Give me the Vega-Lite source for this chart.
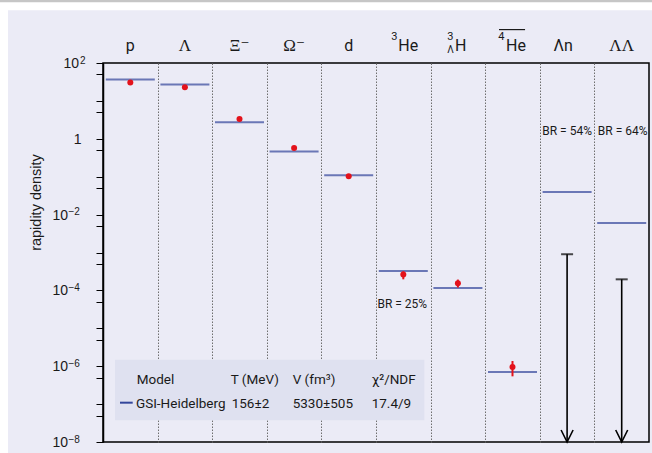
{
  "$schema": "https://vega.github.io/schema/vega-lite/v6.json",
  "width": 546,
  "height": 379,
  "autosize": {"type": "none"},
  "padding": {"left": 103, "top": 63, "right": 3, "bottom": 11},
  "background": "#ebebf6",
  "config": {
    "view": {"stroke": "#000000", "strokeWidth": 1.5},
    "text": {"font": "Roboto, Liberation Sans, sans-serif", "color": "#1a1a1a"}
  },
  "datasets": {
    "yields": [
      {"particle": "p", "col": 0, "model": 36.5, "measured": 30.4},
      {"particle": "Λ", "col": 1, "model": 26.9, "measured": 22.9},
      {"particle": "Ξ⁻", "col": 2, "model": 2.72, "measured": 3.33},
      {"particle": "Ω⁻", "col": 3, "model": 0.459, "measured": 0.572},
      {"particle": "d", "col": 4, "model": 0.109, "measured": 0.102},
      {"particle": "3He", "col": 5, "model": 0.000325, "measured": 0.000261, "lo": 0.000196, "hi": 0.000319},
      {"particle": "3LH", "col": 6, "model": 0.000116, "measured": 0.000154, "lo": 0.000119, "hi": 0.000193},
      {"particle": "anti4He", "col": 7, "model": 7.03e-7, "measured": 9.5e-7, "lo": 5.4e-7, "hi": 1.37e-6},
      {"particle": "Λn", "col": 8, "model": 0.0394, "limit": 0.0009},
      {"particle": "ΛΛ", "col": 9, "model": 0.006, "limit": 0.000196}
    ],
    "decades": [
      {"v": 100, "exp": "2"},
      {"v": 0.01, "exp": "−2"},
      {"v": 0.0001, "exp": "−4"},
      {"v": 0.000001, "exp": "−6"},
      {"v": 1e-8, "exp": "−8"}
    ],
    "fit": [
      {"model": "GSI-Heidelberg", "T": "156±2", "V": "5330±505", "chi2": "17.4/9"}
    ],
    "one": [{}]
  },
  "layer": [
    {
      "data": {"name": "yields"},
      "mark": {"type": "tick", "orient": "horizontal", "size": 49, "thickness": 2, "color": "#33469b"},
      "encoding": {
        "x": {
          "field": "col", "type": "quantitative",
          "scale": {"domain": [-0.5, 9.5], "nice": false, "zero": false},
          "axis": {
            "orient": "bottom", "values": [0.5, 1.5, 2.5, 3.5, 4.5, 5.5, 6.5, 7.5, 8.5],
            "grid": true, "gridColor": "#6e6e6e", "gridDash": [1.5, 1.5], "gridWidth": 1,
            "labels": false, "ticks": false, "domain": false, "title": null
          }
        },
        "y": {
          "field": "model", "type": "quantitative",
          "scale": {"type": "log", "domain": [1e-8, 100], "nice": false},
          "axis": {
            "orient": "left", "grid": false, "labels": false,
            "values": [100, 50, 10, 5, 1, 0.5, 0.1, 0.05, 0.01, 0.005, 0.001, 0.0005, 0.0001, 0.00005, 0.00001, 0.000005, 0.000001, 5e-7, 1e-7, 5e-8, 1e-8],
            "tickSize": 7, "tickColor": "#000000", "tickWidth": 1,
            "domainColor": "#000000", "domainWidth": 1.5,
            "title": "rapidity density",
            "titleFont": "Liberation Sans, Arial, sans-serif", "titleFontSize": 14.5, "titleFontWeight": "normal",
            "titleColor": "#1a1a1a", "titleX": -67, "titleY": 139, "titleAngle": -90,
            "titleAlign": "center", "titleBaseline": "middle"
          }
        }
      }
    },
    {
      "data": {"name": "one"},
      "mark": {"type": "rect", "color": "#ffffff"},
      "encoding": {
        "x": {"datum": -3, "type": "quantitative"}, "x2": {"datum": 11},
        "y": {"datum": 2455, "type": "quantitative"}, "y2": {"datum": 1000000}
      }
    },
    {
      "data": {"name": "one"},
      "mark": {"type": "rect", "color": "#ffffff"},
      "encoding": {
        "x": {"datum": -3, "type": "quantitative"}, "x2": {"datum": -2.24},
        "y": {"datum": 1e-10, "type": "quantitative"}, "y2": {"datum": 1000000}
      }
    },
    {
      "data": {"name": "one"},
      "mark": {"type": "rect", "color": "#c6c6c6"},
      "encoding": {
        "x": {"datum": -3, "type": "quantitative"}, "x2": {"datum": 11},
        "y": {"datum": 4000, "type": "quantitative"}, "y2": {"datum": 1000000}
      }
    },
    {
      "data": {"name": "decades"},
      "transform": [{"filter": "datum.v < 1"}],
      "mark": {"type": "text", "align": "right", "baseline": "alphabetic", "fontSize": 14, "font": "Liberation Sans, Arial, sans-serif", "dx": -35, "dy": 5},
      "encoding": {
        "x": {"datum": -0.5, "type": "quantitative"},
        "y": {"field": "v", "type": "quantitative"},
        "text": {"value": "10"}
      }
    },
    {
      "data": {"name": "decades"},
      "transform": [{"filter": "datum.v < 1"}],
      "mark": {"type": "text", "align": "left", "baseline": "alphabetic", "fontSize": 10, "font": "Liberation Sans, Arial, sans-serif", "dx": -34.5, "dy": 0.5},
      "encoding": {
        "x": {"datum": -0.5, "type": "quantitative"},
        "y": {"field": "v", "type": "quantitative"},
        "text": {"field": "exp"}
      }
    },
    {
      "data": {"name": "decades"},
      "transform": [{"filter": "datum.v > 1"}],
      "mark": {"type": "text", "align": "right", "baseline": "alphabetic", "fontSize": 14, "font": "Liberation Sans, Arial, sans-serif", "dx": -24, "dy": 5},
      "encoding": {
        "x": {"datum": -0.5, "type": "quantitative"},
        "y": {"field": "v", "type": "quantitative"},
        "text": {"value": "10"}
      }
    },
    {
      "data": {"name": "decades"},
      "transform": [{"filter": "datum.v > 1"}],
      "mark": {"type": "text", "align": "left", "baseline": "alphabetic", "fontSize": 10, "font": "Liberation Sans, Arial, sans-serif", "dx": -23, "dy": 0.5},
      "encoding": {
        "x": {"datum": -0.5, "type": "quantitative"},
        "y": {"field": "v", "type": "quantitative"},
        "text": {"field": "exp"}
      }
    },
    {
      "data": {"name": "one"},
      "mark": {"type": "text", "align": "right", "baseline": "alphabetic", "fontSize": 14, "font": "Liberation Sans, Arial, sans-serif", "dx": -21.5, "dy": 5},
      "encoding": {
        "x": {"datum": -0.5, "type": "quantitative"},
        "y": {"datum": 1, "type": "quantitative"},
        "text": {"value": "1"}
      }
    },
    {
      "data": {"name": "one"},
      "mark": {"type": "rect", "color": "#dfe1f0"},
      "encoding": {
        "x": {"datum": -0.28, "type": "quantitative"}, "x2": {"datum": 5.385},
        "y": {"datum": 1.49e-6, "type": "quantitative"}, "y2": {"datum": 3.74e-8}
      }
    },
    {
      "data": {"name": "yields"},
      "transform": [{"filter": "isValid(datum.lo)"}],
      "mark": {"type": "rule", "color": "#e3121b", "strokeWidth": 2},
      "encoding": {
        "x": {"field": "col", "type": "quantitative"},
        "y": {"field": "lo", "type": "quantitative"},
        "y2": {"field": "hi"}
      }
    },
    {
      "data": {"name": "yields"},
      "transform": [{"filter": "isValid(datum.measured)"}],
      "mark": {"type": "point", "filled": true, "opacity": 1, "size": 36, "color": "#e3121b"},
      "encoding": {
        "x": {"field": "col", "type": "quantitative"},
        "y": {"field": "measured", "type": "quantitative"}
      }
    },
    {
      "data": {"name": "yields"},
      "transform": [{"filter": "isValid(datum.limit)"}],
      "mark": {"type": "rule", "color": "#000000", "strokeWidth": 1.6},
      "encoding": {
        "x": {"field": "col", "type": "quantitative"},
        "y": {"field": "limit", "type": "quantitative"},
        "y2": {"datum": 1e-8}
      }
    },
    {
      "data": {"name": "yields"},
      "transform": [{"filter": "isValid(datum.limit)"}],
      "mark": {"type": "tick", "orient": "horizontal", "size": 12, "thickness": 2, "color": "#000000"},
      "encoding": {
        "x": {"field": "col", "type": "quantitative"},
        "y": {"field": "limit", "type": "quantitative"}
      }
    },
    {
      "data": {"name": "yields"},
      "transform": [{"filter": "isValid(datum.limit)"}],
      "mark": {"type": "point", "shape": "M-1,-2L0,0L1,-2", "filled": false, "opacity": 1, "size": 144, "stroke": "#000000", "strokeWidth": 1.6},
      "encoding": {
        "x": {"field": "col", "type": "quantitative"},
        "y": {"datum": 1e-8, "type": "quantitative"}
      }
    },
    {
      "data": {"name": "one"},
      "mark": {"type": "rule", "color": "#33469b", "strokeWidth": 2},
      "encoding": {
        "x": {"datum": -0.189, "type": "quantitative"}, "x2": {"datum": 0.044},
        "y": {"datum": 1.09e-7, "type": "quantitative"}
      }
    },
    {
      "data": {"name": "fit"},
      "mark": {"type": "text", "align": "left", "baseline": "alphabetic", "fontSize": 13.5},
      "encoding": {
        "x": {"datum": 0.117, "type": "quantitative"}, "y": {"datum": 3.33e-7, "type": "quantitative"},
        "text": {"value": "Model"}
      }
    },
    {
      "data": {"name": "fit"},
      "mark": {"type": "text", "align": "left", "baseline": "alphabetic", "fontSize": 13.5},
      "encoding": {
        "x": {"datum": 1.839, "type": "quantitative"}, "y": {"datum": 3.33e-7, "type": "quantitative"},
        "text": {"value": "T (MeV)"}
      }
    },
    {
      "data": {"name": "fit"},
      "mark": {"type": "text", "align": "left", "baseline": "alphabetic", "fontSize": 13.5},
      "encoding": {
        "x": {"datum": 2.974, "type": "quantitative"}, "y": {"datum": 3.33e-7, "type": "quantitative"},
        "text": {"value": "V (fm³)"}
      }
    },
    {
      "data": {"name": "fit"},
      "mark": {"type": "text", "align": "left", "baseline": "alphabetic", "fontSize": 13.5},
      "encoding": {
        "x": {"datum": 4.421, "type": "quantitative"}, "y": {"datum": 3.33e-7, "type": "quantitative"},
        "text": {"value": "χ²/NDF"}
      }
    },
    {
      "data": {"name": "fit"},
      "mark": {"type": "text", "align": "left", "baseline": "alphabetic", "fontSize": 13.5},
      "encoding": {
        "x": {"datum": 0.104, "type": "quantitative"}, "y": {"datum": 8.04e-8, "type": "quantitative"},
        "text": {"field": "model"}
      }
    },
    {
      "data": {"name": "fit"},
      "mark": {"type": "text", "align": "left", "baseline": "alphabetic", "fontSize": 13.5},
      "encoding": {
        "x": {"datum": 1.857, "type": "quantitative"}, "y": {"datum": 8.04e-8, "type": "quantitative"},
        "text": {"field": "T"}
      }
    },
    {
      "data": {"name": "fit"},
      "mark": {"type": "text", "align": "left", "baseline": "alphabetic", "fontSize": 13.5},
      "encoding": {
        "x": {"datum": 2.974, "type": "quantitative"}, "y": {"datum": 8.04e-8, "type": "quantitative"},
        "text": {"field": "V"}
      }
    },
    {
      "data": {"name": "fit"},
      "mark": {"type": "text", "align": "left", "baseline": "alphabetic", "fontSize": 13.5},
      "encoding": {
        "x": {"datum": 4.421, "type": "quantitative"}, "y": {"datum": 8.04e-8, "type": "quantitative"},
        "text": {"field": "chi2"}
      }
    },
    {
      "data": {"name": "one"},
      "mark": {"type": "text", "align": "center", "baseline": "alphabetic", "fontSize": 12},
      "encoding": {
        "x": {"datum": 8, "type": "quantitative"}, "y": {"datum": 1.26, "type": "quantitative"},
        "text": {"value": "BR = 54%"}
      }
    },
    {
      "data": {"name": "one"},
      "mark": {"type": "text", "align": "center", "baseline": "alphabetic", "fontSize": 12, "dx": 1},
      "encoding": {
        "x": {"datum": 9, "type": "quantitative"}, "y": {"datum": 1.26, "type": "quantitative"},
        "text": {"value": "BR = 64%"}
      }
    },
    {
      "data": {"name": "one"},
      "mark": {"type": "text", "align": "center", "baseline": "alphabetic", "fontSize": 12, "dx": -1},
      "encoding": {
        "x": {"datum": 5, "type": "quantitative"}, "y": {"datum": 0.000035, "type": "quantitative"},
        "text": {"value": "BR = 25%"}
      }
    },
    {
      "data": {"name": "yields"},
      "transform": [{"filter": "indexof(['Λ', 'Ξ⁻', 'Ω⁻', 'ΛΛ'], datum.particle) >= 0"}],
      "mark": {"type": "text", "align": "center", "baseline": "alphabetic", "fontSize": 17, "font": "Liberation Serif, DejaVu Serif, serif", "dy": -12},
      "encoding": {
        "x": {"field": "col", "type": "quantitative"},
        "y": {"datum": 100, "type": "quantitative"},
        "text": {"field": "particle"}
      }
    },
    {
      "data": {"name": "yields"},
      "transform": [{"filter": "indexof(['p', 'd'], datum.particle) >= 0"}],
      "mark": {"type": "text", "align": "center", "baseline": "alphabetic", "fontSize": 16, "dy": -12},
      "encoding": {
        "x": {"field": "col", "type": "quantitative"},
        "y": {"datum": 100, "type": "quantitative"},
        "text": {"field": "particle"}
      }
    },
    {
      "data": {"name": "yields"},
      "transform": [{"filter": "datum.particle == 'Λn'"}],
      "mark": {"type": "text", "align": "center", "baseline": "alphabetic", "fontSize": 16, "dy": -12, "dx": -4},
      "encoding": {
        "x": {"field": "col", "type": "quantitative"},
        "y": {"datum": 100, "type": "quantitative"},
        "text": {"field": "particle"}
      }
    },
    {
      "data": {"name": "one"},
      "mark": {"type": "text", "align": "left", "baseline": "alphabetic", "fontSize": 16, "dy": -12, "dx": -5},
      "encoding": {
        "x": {"datum": 5, "type": "quantitative"}, "y": {"datum": 100, "type": "quantitative"},
        "text": {"value": "He"}
      }
    },
    {
      "data": {"name": "one"},
      "mark": {"type": "text", "align": "right", "baseline": "alphabetic", "fontSize": 11, "dy": -23, "dx": -5.8},
      "encoding": {
        "x": {"datum": 5, "type": "quantitative"}, "y": {"datum": 100, "type": "quantitative"},
        "text": {"value": "3"}
      }
    },
    {
      "data": {"name": "one"},
      "mark": {"type": "text", "align": "left", "baseline": "alphabetic", "fontSize": 16, "dy": -12, "dx": -3},
      "encoding": {
        "x": {"datum": 6, "type": "quantitative"}, "y": {"datum": 100, "type": "quantitative"},
        "text": {"value": "H"}
      }
    },
    {
      "data": {"name": "one"},
      "mark": {"type": "text", "align": "right", "baseline": "alphabetic", "fontSize": 11, "dy": -23, "dx": -4.5},
      "encoding": {
        "x": {"datum": 6, "type": "quantitative"}, "y": {"datum": 100, "type": "quantitative"},
        "text": {"value": "3"}
      }
    },
    {
      "data": {"name": "one"},
      "mark": {"type": "text", "align": "right", "baseline": "alphabetic", "fontSize": 10, "dy": -10.5, "dx": -4},
      "encoding": {
        "x": {"datum": 6, "type": "quantitative"}, "y": {"datum": 100, "type": "quantitative"},
        "text": {"value": "Λ"}
      }
    },
    {
      "data": {"name": "one"},
      "mark": {"type": "text", "align": "left", "baseline": "alphabetic", "fontSize": 16, "dy": -12, "dx": -6.5},
      "encoding": {
        "x": {"datum": 7, "type": "quantitative"}, "y": {"datum": 100, "type": "quantitative"},
        "text": {"value": "He"}
      }
    },
    {
      "data": {"name": "one"},
      "mark": {"type": "text", "align": "right", "baseline": "alphabetic", "fontSize": 11, "dy": -23, "dx": -8},
      "encoding": {
        "x": {"datum": 7, "type": "quantitative"}, "y": {"datum": 100, "type": "quantitative"},
        "text": {"value": "4"}
      }
    },
    {
      "data": {"name": "one"},
      "mark": {"type": "rule", "color": "#1a1a1a", "strokeWidth": 1.2},
      "encoding": {
        "x": {"datum": 6.753, "type": "quantitative"}, "x2": {"datum": 7.23},
        "y": {"datum": 761, "type": "quantitative"}
      }
    }
  ]
}
